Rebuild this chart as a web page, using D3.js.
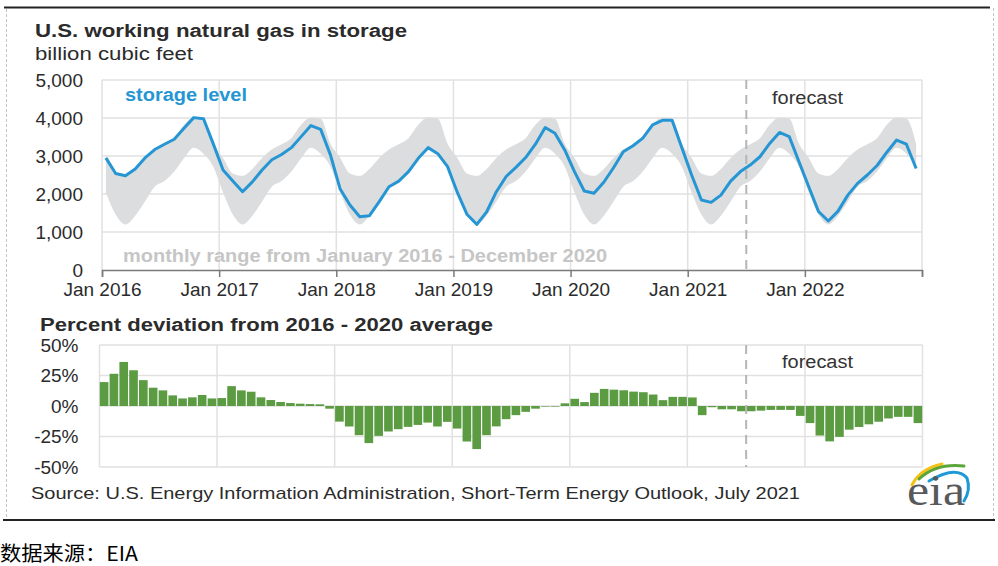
<!DOCTYPE html>
<html><head><meta charset="utf-8">
<script src="https://cdn.jsdelivr.net/npm/d3@7/dist/d3.min.js"></script>
<style>
body{margin:0;background:#fff}
svg{display:block}
text{font-family:"Liberation Sans",Arial,sans-serif}
</style>
</head><body>
<svg id="c" width="998" height="566"></svg>
<script>
// ---------------- data ----------------
const yearLabels = ["Jan 2016","Jan 2017","Jan 2018","Jan 2019","Jan 2020","Jan 2021","Jan 2022"];
// end-of-month working gas in storage, Jan 2016 – Dec 2022 (billion cubic feet)
const storage = [
  2950,2540,2480,2660,2950,3170,3310,3440,3730,4010,3980,3320,
  2630,2340,2060,2320,2630,2900,3040,3220,3510,3800,3700,3030,
  2130,1710,1400,1430,1800,2190,2340,2590,2940,3220,3060,2720,
  2040,1460,1200,1530,2060,2460,2700,2960,3310,3750,3600,3160,
  2590,2080,2020,2310,2690,3110,3270,3470,3820,3940,3940,3220,
  2500,1840,1780,1970,2340,2590,2760,2980,3330,3620,3510,2850,
  2190,1540,1290,1550,1970,2280,2500,2750,3100,3420,3310,2670
];
// monthly range Jan 2016 – Dec 2020, by calendar month (Jan..Dec)
const rangeMax = [2950,2540,2480,2660,2950,3170,3310,3470,3820,4010,3980,3320];
const rangeMin = [2040,1460,1200,1430,1800,2190,2340,2590,2940,3220,3060,2720];
// percent deviation from 2016-2020 average
const deviation = [
  19.6,26.4,36.1,29.3,21.2,15.0,12.8,8.7,6.2,7.1,9.0,6.2,
  6.5,16.3,12.8,11.7,7.1,4.9,3.3,2.4,1.9,1.6,1.4,-2.2,
  -12.8,-16.8,-23.9,-30.4,-24.5,-20.9,-19.0,-17.1,-15.5,-13.6,-16.8,-13.0,
  -18.5,-29.1,-35.3,-23.9,-16.7,-10.8,-7.5,-4.8,-2.2,-0.5,-0.5,2.2,
  5.9,3.2,10.8,14.0,13.4,12.9,11.8,11.3,9.4,4.8,7.5,7.5,
  7.0,-7.5,-1.0,-2.7,-2.7,-4.3,-4.3,-3.8,-3.2,-3.2,-3.2,-8.1,
  -14.0,-24.2,-29.0,-25.3,-19.4,-17.2,-15.0,-12.9,-10.2,-8.9,-8.9,-14.0
];
const storageTicks = [0,1000,2000,3000,4000,5000];
const pctTicks = [-50,-25,0,25,50];
const forecastStart = 66; // July 2021
const nMonths = storage.length;

// ---------------- drawing ----------------
const svg = d3.select("#c");
const gridColor = "#e1e1e1";
const textColor = "#2b2b2b";

function label(x, y, str, opts) {
  const t = svg.append("text").attr("x", x).attr("y", y).text(str)
    .attr("font-size", opts.size || 18)
    .attr("font-weight", opts.bold ? "bold" : "normal")
    .attr("fill", opts.color || textColor);
  if (opts.len) t.attr("textLength", opts.len).attr("lengthAdjust", "spacingAndGlyphs");
  if (opts.family) t.style("font-family", opts.family);
  return t;
}

// frame
svg.append("line").attr("x1",4).attr("x2",990).attr("y1",7.5).attr("y2",7.5).attr("stroke","#222").attr("stroke-width",2);
svg.append("line").attr("x1",3).attr("x2",995).attr("y1",520).attr("y2",520).attr("stroke","#222").attr("stroke-width",2);
svg.append("line").attr("x1",6.5).attr("x2",6.5).attr("y1",9).attr("y2",519).attr("stroke","#c4c4c4").attr("stroke-dasharray","3,2");
svg.append("line").attr("x1",993.5).attr("x2",993.5).attr("y1",8).attr("y2",519).attr("stroke","#c4c4c4").attr("stroke-dasharray","3,2");

// titles
label(35, 37, "U.S. working natural gas in storage", {bold:true, size:18, len:372});
label(35, 60, "billion cubic feet", {size:18, len:158});

// ---- top chart ----
const xT = d3.scaleLinear().domain([0, nMonths]).range([102, 922]);
const yT = d3.scaleLinear().domain([0, 5000]).range([270, 80]);
const gTop = svg.append("g");

// grid
gTop.selectAll("line.h").data(storageTicks.filter(d => d > 0)).join("line")
  .attr("x1", xT(0)).attr("x2", xT(nMonths)).attr("y1", d => yT(d)).attr("y2", d => yT(d))
  .attr("stroke", gridColor).attr("stroke-width", 1.5);
const yearIdx = d3.range(0, nMonths + 1, 12);
gTop.selectAll("line.v").data(yearIdx).join("line")
  .attr("x1", d => xT(d)).attr("x2", d => xT(d)).attr("y1", yT(5000)).attr("y2", yT(0))
  .attr("stroke", gridColor).attr("stroke-width", 1.5);

// band
const band = d3.area()
  .x((d, i) => xT(i + 0.4))
  .y0((d, i) => yT(rangeMin[i % 12]))
  .y1((d, i) => yT(rangeMax[i % 12]))
  .curve(d3.curveMonotoneX);
gTop.append("path").datum(storage).attr("d", band).attr("fill", "#dcdddf");

// forecast line
gTop.append("line").attr("x1", xT(forecastStart)).attr("x2", xT(forecastStart))
  .attr("y1", yT(5000)).attr("y2", yT(0))
  .attr("stroke", "#b5b5b5").attr("stroke-width", 2).attr("stroke-dasharray", "9,6");

// storage line
const line = d3.line().x((d, i) => xT(i + 0.4)).y(d => yT(d));
gTop.append("path").datum(storage).attr("d", line)
  .attr("fill", "none").attr("stroke", "#2596d3").attr("stroke-width", 3)
  .attr("stroke-linejoin", "round");

// axes
const xAxisT = d3.axisBottom(xT).tickValues(yearIdx).tickSize(7).tickPadding(6)
  .tickFormat(d => yearLabels[d / 12] || "");
const gx = gTop.append("g").attr("transform", `translate(0,${yT(0)})`).call(xAxisT);
gx.select(".domain").attr("stroke", "#7a7a7a").attr("stroke-width", 1.5);
gx.selectAll(".tick line").attr("stroke", "#7a7a7a").attr("stroke-width", 1.5);
gx.selectAll(".tick text").attr("font-size", 19).attr("fill", textColor)
  .style("font-family", '"Liberation Sans",Arial,sans-serif');

const yAxisT = d3.axisLeft(yT).tickValues(storageTicks).tickSize(0).tickPadding(19)
  .tickFormat(d3.format(","));
const gy = gTop.append("g").attr("transform", `translate(${xT(0)},0)`).call(yAxisT);
gy.select(".domain").remove();
gy.selectAll(".tick text").attr("font-size", 19).attr("fill", textColor)
  .style("font-family", '"Liberation Sans",Arial,sans-serif');

label(125, 101, "storage level", {bold:true, size:18, len:122, color:"#2596d3"});
label(123, 262, "monthly range from January 2016 - December 2020", {bold:true, size:18, len:484, color:"#c6c6c6"});
label(772, 104, "forecast", {size:18, len:71, color:"#333"});

// ---- bottom chart ----
label(40, 331, "Percent deviation from 2016 - 2020 average", {bold:true, size:18, len:453});

const xB = d3.scaleBand().domain(d3.range(nMonths)).range([99.5, 922.5]).paddingInner(0.12).paddingOuter(0.03);
const xBl = d3.scaleLinear().domain([0, nMonths]).range([99.5, 922.5]);
const yB = d3.scaleLinear().domain([-50, 50]).range([467, 345]);
const gBot = svg.append("g");

gBot.selectAll("line.h").data(pctTicks).join("line")
  .attr("x1", xBl(0)).attr("x2", xBl(nMonths)).attr("y1", d => yB(d)).attr("y2", d => yB(d))
  .attr("stroke", gridColor).attr("stroke-width", 1.5);
gBot.selectAll("line.v").data(yearIdx).join("line")
  .attr("x1", d => xBl(d)).attr("x2", d => xBl(d)).attr("y1", yB(50)).attr("y2", yB(-50))
  .attr("stroke", gridColor).attr("stroke-width", 1.5);

gBot.selectAll("rect").data(deviation).join("rect")
  .attr("x", (d, i) => xB(i)).attr("width", xB.bandwidth())
  .attr("y", d => yB(Math.max(0, d))).attr("height", d => Math.abs(yB(d) - yB(0)))
  .attr("fill", "#5b9b42");

gBot.append("line").attr("x1", xBl(forecastStart)).attr("x2", xBl(forecastStart))
  .attr("y1", yB(50)).attr("y2", yB(-50))
  .attr("stroke", "#b5b5b5").attr("stroke-width", 2).attr("stroke-dasharray", "9,6");

const yAxisB = d3.axisLeft(yB).tickValues(pctTicks).tickSize(0).tickPadding(21)
  .tickFormat(d => d + "%");
const gyb = gBot.append("g").attr("transform", `translate(${xBl(0)},0)`).call(yAxisB);
gyb.select(".domain").remove();
gyb.selectAll(".tick text").attr("font-size", 19).attr("fill", textColor)
  .style("font-family", '"Liberation Sans",Arial,sans-serif');

label(782, 368, "forecast", {size:18, len:71, color:"#333"});

// ---- footer ----
label(31, 499, "Source: U.S. Energy Information Administration, Short-Term Energy Outlook, July 2021", {size:17, len:769});

// eia logo
const logo = svg.append("g");
logo.append("path").attr("d", "M912,485 Q920,469 942,464").attr("fill","none").attr("stroke","#f3c316").attr("stroke-width",3).attr("stroke-linecap","round");
logo.append("path").attr("d", "M919,479 Q936,463 964,466").attr("fill","none").attr("stroke","#5ca53a").attr("stroke-width",3).attr("stroke-linecap","round");
logo.append("path").attr("d", "M929,481 Q956,465 967,478 Q971,490 964,501").attr("fill","none").attr("stroke","#1d9ad6").attr("stroke-width",3).attr("stroke-linecap","round");
label(907, 505, "eia", {size:44, len:58, color:"#58595b", family:'"Liberation Serif","Times New Roman",serif'});

// caption
label(0, 561, "数据来源：EIA", {size:20, len:138, color:"#000", family:'"Noto Sans CJK SC",sans-serif'});
</script>
</body></html>
